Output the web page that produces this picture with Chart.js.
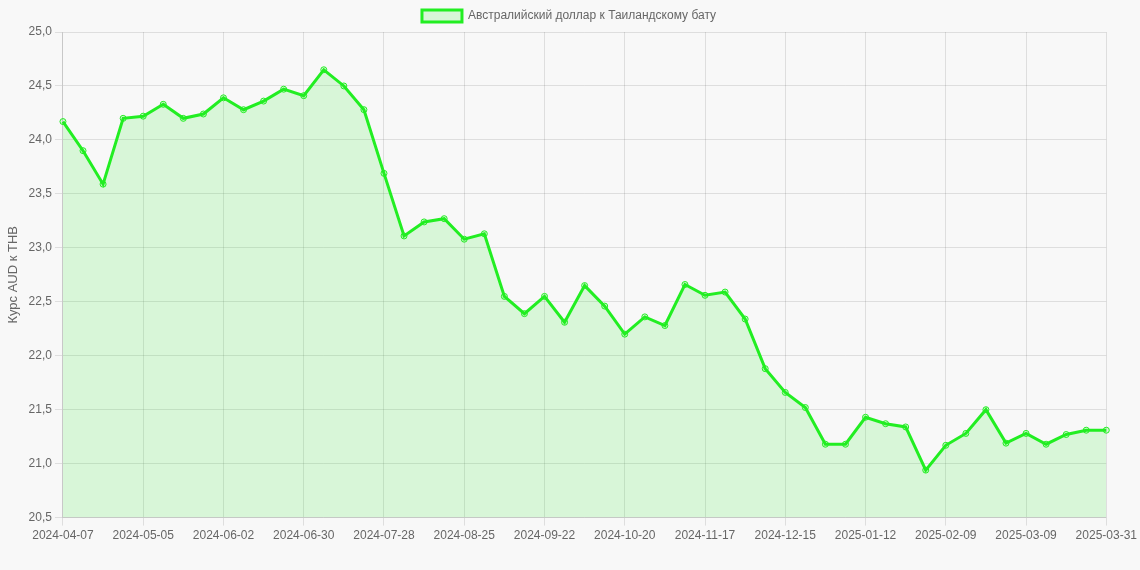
<!DOCTYPE html>
<html>
<head>
<meta charset="utf-8">
<script src="https://cdn.jsdelivr.net/npm/chart.js@4"></script>
<style>
  html, body { margin: 0; padding: 0; background: #f8f8f8; }
  #wrap { width: 1140px; height: 570px; }
</style>
</head>
<body>
<div id="wrap"><canvas id="myChart"></canvas></div>
<script>
// weekly dates (last point is the current day)
const dates = [
  "2024-04-07", "2024-04-14", "2024-04-21", "2024-04-28", "2024-05-05", "2024-05-12",
  "2024-05-19", "2024-05-26", "2024-06-02", "2024-06-09", "2024-06-16", "2024-06-23",
  "2024-06-30", "2024-07-07", "2024-07-14", "2024-07-21", "2024-07-28", "2024-08-04",
  "2024-08-11", "2024-08-18", "2024-08-25", "2024-09-01", "2024-09-08", "2024-09-15",
  "2024-09-22", "2024-09-29", "2024-10-06", "2024-10-13", "2024-10-20", "2024-10-27",
  "2024-11-03", "2024-11-10", "2024-11-17", "2024-11-24", "2024-12-01", "2024-12-08",
  "2024-12-15", "2024-12-22", "2024-12-29", "2025-01-05", "2025-01-12", "2025-01-19",
  "2025-01-26", "2025-02-02", "2025-02-09", "2025-02-16", "2025-02-23", "2025-03-02",
  "2025-03-09", "2025-03-16", "2025-03-23", "2025-03-30", "2025-03-31"
];

// AUD -> THB rate
const rates = [
  24.17, 23.90, 23.59, 24.20, 24.22, 24.33, 24.20, 24.24, 24.39, 24.28, 24.36, 24.47,
  24.41, 24.65, 24.50, 24.28, 23.69, 23.11, 23.24, 23.27, 23.08, 23.13, 22.55, 22.39,
  22.55, 22.31, 22.65, 22.46, 22.20, 22.36, 22.28, 22.66, 22.56, 22.59, 22.34, 21.88,
  21.66, 21.52, 21.18, 21.18, 21.43, 21.37, 21.34, 20.94, 21.17, 21.28, 21.50, 21.19,
  21.28, 21.18, 21.27, 21.31, 21.31
];

const yMin = 20.5;
const yMax = 25.0;
const yStep = 0.5;

Chart.defaults.font.family = "'Liberation Sans', Arial, sans-serif";
Chart.defaults.font.size = 12;
Chart.defaults.color = "#666";

const data = {
  labels: dates,
  datasets: [
    {
      label: "Австралийский доллар к Таиландскому бату",
      data: rates,
      borderColor: "rgb(34, 238, 34)",
      backgroundColor: "rgba(34, 238, 34, 0.15)",
      borderWidth: 3,
      pointRadius: 3,
      pointBorderWidth: 1,
      pointBackgroundColor: "rgba(34, 238, 34, 0.15)",
      fill: true,
      tension: 0,
    },
  ],
};

const config = {
  type: "line",
  data,
  options: {
    responsive: true,
    maintainAspectRatio: false,
    animation: false,
    layout: { padding: { left: 2, right: 4, bottom: 24 } },
    plugins: {
      legend: {
        position: "top",
        labels: { boxWidth: 40, boxHeight: 12, padding: 10 },
      },
      tooltip: { enabled: false },
    },
    scales: {
      x: {
        grid: { color: "rgba(0,0,0,0.1)" },
        ticks: {
          autoSkip: false,
          maxRotation: 0,
          callback: function (value, index) {
            if (index % 4 === 0 || index === dates.length - 1) return dates[index];
            return null;
          },
        },
      },
      y: {
        min: yMin,
        max: yMax,
        grid: { color: "rgba(0,0,0,0.1)" },
        ticks: {
          stepSize: yStep,
          callback: (v) => v.toFixed(1).replace(".", ","),
        },
        title: { display: true, text: "Курс AUD к THB", font: { size: 13 } },
      },
    },
  },
};

const myChart = new Chart(document.getElementById("myChart"), config);
</script>
</body>
</html>
